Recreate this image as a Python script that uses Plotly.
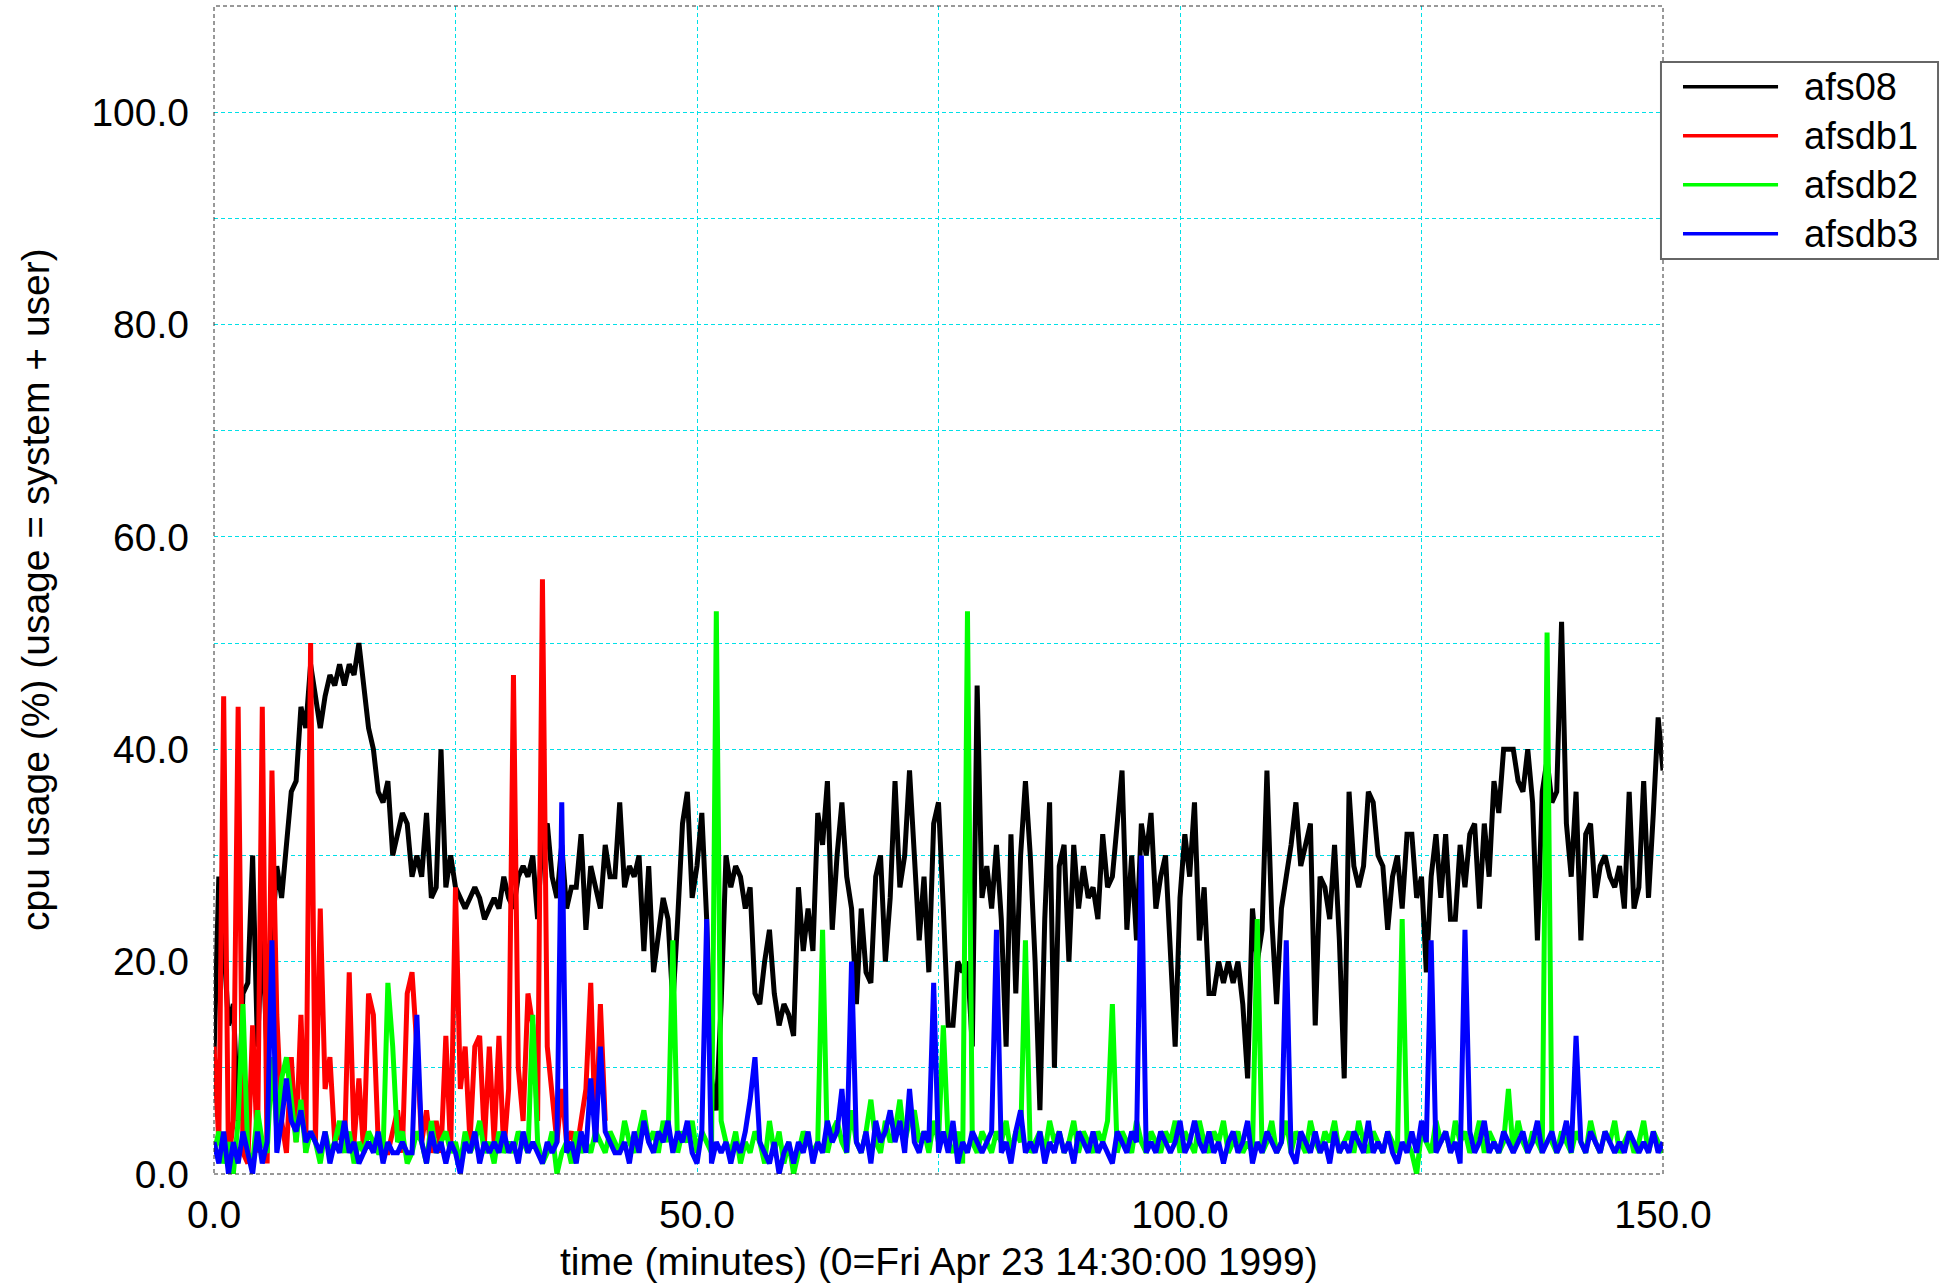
import plotly.graph_objects as go

# ---------------- data (cpu usage %, one sample every 0.5 min) ----------------
SAMPLE_STEP_MIN = 0.5

SERIES_NAMES = ["afs08", "afsdb1", "afsdb2", "afsdb3"]

AFS08 = [
    11, 28, 22, 14, 16, 5, 17, 18, 30, 12, 23, 11, 22, 29, 26, 31, 36, 37, 44, 42,
    48, 45, 42, 45, 47, 46, 48, 46, 48, 47, 50, 46, 42, 40, 36, 35, 37, 30, 32, 34,
    33, 28, 30, 28, 34, 26, 27, 40, 27, 30, 27,
    26, 25, 26, 27, 26, 24, 25, 26, 25, 28, 26, 25, 28, 29, 28, 30, 24, 32, 33, 28,
    26, 31, 25, 27, 27, 32, 23, 29, 27, 25, 31, 28, 28, 35, 27, 29, 28, 30, 21, 29,
    19, 23, 26, 24, 16, 24, 33, 36, 26, 29, 34, 24,
    9, 6, 16, 30, 27, 29, 28, 25, 27, 17, 16, 20, 23, 17, 14, 16, 15, 13, 27, 21,
    25, 21, 34, 31, 37, 23, 30, 35, 28, 25, 16, 25, 19, 18, 28, 30, 20, 26, 37, 27,
    30, 38, 29, 22, 28, 19, 33, 35, 25, 14, 14, 20,
    19, 20, 12, 46, 26, 29, 25, 31, 24, 12, 32, 17, 30, 37, 30, 20, 6, 24, 35, 10,
    29, 31, 20, 31, 25, 29, 26, 27, 24, 32, 27, 28, 33, 38, 23, 30, 22, 33, 30, 34,
    25, 28, 30, 20, 12, 26, 32, 28, 35, 22, 27, 17,
    17, 20, 18, 20, 18, 20, 16, 9, 25, 20, 23, 38, 24, 16, 25, 28, 31, 35, 29, 31,
    33, 14, 28, 27, 24, 31, 22, 9, 36, 29, 27, 29, 36, 35, 30, 29, 23, 28, 30, 25,
    32, 32, 26, 28, 19, 28, 32, 26, 32, 24, 24, 31,
    27, 32, 33, 25, 33, 28, 37, 34, 40, 40, 40, 37, 36, 40, 35, 22, 36, 39, 35, 36,
    52, 33, 28, 36, 22, 32, 33, 26, 29, 30, 28, 27, 29, 25, 36, 25, 27, 37, 26, 34,
    43, 38,
]

AFSDB1 = [
    12, 3, 45, 1, 5, 44, 2, 1, 14, 2, 44, 1, 38, 15, 5, 2, 11, 3, 15, 2,
    50, 3, 25, 8, 11, 3, 4, 2, 19, 3, 9, 2, 17, 15, 3, 2, 2, 4, 6, 2,
    17, 19, 12, 3, 6, 2, 5, 2, 13, 2, 27, 8, 12, 3, 12, 13, 3, 12, 3, 13,
    2, 8, 47, 10, 5, 17, 14, 5, 56, 12, 8, 3, 8, 3, 4, 2, 5, 8, 18, 3,
    16, 5,
]

AFSDB2 = [
    2, 4, 1, 3, 0, 5, 16, 2, 1, 6, 3, 2, 11, 4, 9, 11, 7, 3, 7, 2, 4,
    3, 1, 4, 2, 3, 5, 2, 4, 1, 3, 2, 4, 3, 2, 2, 18, 12, 3, 4, 1,
    2, 4, 3, 1, 5, 2, 3, 4, 2, 3, 1, 4, 2, 3, 5, 2, 3, 1, 4, 2,
    3, 2, 4, 3, 2, 15, 3, 1, 2, 4, 0, 2, 3, 1, 4, 2, 3, 2, 4, 3,
    2, 4, 3, 2, 5, 3, 2, 4, 6, 3, 4, 2, 5, 3, 22, 2, 4, 3, 5, 2,
    4, 3, 2, 53, 5, 3, 2, 4, 1, 3, 2, 4, 3, 1, 5, 2, 4, 1, 3, 0,
    2, 4, 3, 2, 3, 23, 2, 4, 5, 3, 2, 6, 3, 2, 4, 7, 3, 2, 5, 3,
    4, 7, 3, 5, 6, 3, 4, 2, 5, 3, 14, 3, 2, 4, 1, 53, 3, 2, 4, 3,
    2, 4, 3, 5, 2, 4, 3, 22, 2, 3, 4, 2, 5, 3, 4, 2, 3, 5, 2, 4,
    3, 2, 4, 3, 5, 16, 2, 4, 3, 2, 5, 3, 2, 4, 3, 2, 4, 3, 5, 2,
    4, 3, 2, 5, 3, 2, 4, 3, 5, 2, 3, 4, 2, 3, 2, 24, 2, 3, 5, 2,
    3, 5, 2, 4, 3, 2, 5, 3, 2, 4, 3, 5, 2, 3, 4, 2, 5, 3, 2, 4,
    3, 2, 4, 3, 2, 24, 3, 2, 0, 4, 3, 2, 5, 3, 4, 2, 5, 3, 4, 2,
    3, 5, 2, 4, 3, 2, 3, 8, 2, 5, 3, 2, 4, 3, 2, 51, 3, 2, 4, 3,
    2, 4, 3, 2, 5, 3, 2, 4, 3, 5, 2, 3, 4, 2, 3, 5, 2, 4, 3, 2,
]

AFSDB3 = [
    3, 1, 4, 0, 3, 1, 4, 2, 0, 4, 1, 3, 22, 2, 5, 9, 5, 4, 6, 3, 4,
    3, 2, 4, 1, 3, 2, 5, 2, 3, 1, 2, 3, 2, 4, 1, 3, 2, 2, 3, 2,
    2, 15, 3, 1, 4, 2, 3, 1, 3, 2, 0, 3, 2, 4, 1, 3, 2, 3, 2, 4,
    2, 3, 1, 4, 2, 3, 2, 1, 3, 2, 3, 35, 2, 3, 1, 4, 2, 9, 3, 12,
    4, 3, 2, 2, 3, 1, 4, 2, 5, 3, 2, 4, 3, 5, 2, 4, 3, 5, 2, 1,
    4, 24, 1, 3, 2, 3, 1, 3, 2, 4, 7, 11, 3, 2, 1, 3, 0, 2, 3, 1,
    3, 2, 4, 1, 3, 2, 5, 3, 4, 8, 2, 20, 3, 2, 4, 1, 5, 3, 4, 6,
    3, 5, 2, 8, 3, 2, 4, 3, 18, 2, 4, 2, 5, 1, 3, 2, 4, 3, 2, 3,
    4, 23, 2, 3, 1, 4, 6, 2, 3, 2, 4, 1, 3, 2, 4, 2, 3, 1, 4, 3,
    2, 4, 2, 3, 2, 1, 4, 3, 2, 4, 3, 30, 2, 3, 2, 4, 3, 2, 3, 5,
    2, 3, 5, 3, 2, 4, 2, 3, 1, 3, 4, 2, 3, 5, 1, 3, 2, 4, 3, 2,
    3, 22, 2, 1, 4, 3, 2, 4, 2, 3, 1, 4, 2, 3, 2, 4, 3, 2, 5, 2,
    3, 2, 4, 2, 1, 3, 2, 4, 2, 5, 3, 22, 2, 3, 4, 2, 3, 1, 23, 4,
    2, 3, 5, 2, 3, 2, 4, 3, 2, 3, 4, 2, 3, 5, 2, 3, 4, 2, 3, 5,
    2, 13, 3, 2, 4, 3, 2, 4, 3, 2, 3, 2, 4, 3, 2, 3, 2, 4, 2, 3,
]

X_TICKS = [0, 50, 100, 150]
X_TICK_LABELS = ["0.0", "50.0", "100.0", "150.0"]
X_MINOR_GRID = [25, 75, 125]
Y_TICKS = [0, 20, 40, 60, 80, 100]
Y_TICK_LABELS = ["0.0", "20.0", "40.0", "60.0", "80.0", "100.0"]
Y_MINOR_GRID = [10, 30, 50, 70, 90, 110]

X_TITLE = "time (minutes) (0=Fri Apr 23 14:30:00 1999)"
Y_TITLE = "cpu usage (%) (usage = system + user)"

COLORS = ["#000000", "#ff0000", "#00ff00", "#0000ff"]

# ---------------- figure ----------------
FONT = "Liberation Sans, Arial, Helvetica, sans-serif"
GRID_COLOR = "#00e0e8"
GRID_DASH = "4px,3px"

fig = go.Figure()
all_series = [AFS08, AFSDB1, AFSDB2, AFSDB3]
for name, vals, col in zip(SERIES_NAMES, all_series, COLORS):
    t = [i * SAMPLE_STEP_MIN for i in range(len(vals))]
    fig.add_trace(go.Scatter(x=t, y=vals, mode="lines", name=name,
                             line=dict(color=col, width=5),
                             showlegend=False))

fig.update_layout(
    width=1950, height=1283,
    margin=dict(l=214, r=287, t=6, b=109),
    paper_bgcolor="white", plot_bgcolor="white",
    font=dict(family=FONT, size=39, color="black"),
    xaxis=dict(
        range=[0, 150], tickvals=X_TICKS, ticktext=X_TICK_LABELS,
        showgrid=True, gridcolor=GRID_COLOR, griddash=GRID_DASH, gridwidth=1,
        minor=dict(tickvals=X_MINOR_GRID, showgrid=True, gridcolor=GRID_COLOR,
                   griddash=GRID_DASH, gridwidth=1),
        zeroline=False, showline=False, ticks="", ticklabelstandoff=14,
        tickfont=dict(size=39),
    ),
    yaxis=dict(
        range=[0, 110], tickvals=Y_TICKS, ticktext=Y_TICK_LABELS,
        showgrid=True, gridcolor=GRID_COLOR, griddash=GRID_DASH, gridwidth=1,
        minor=dict(tickvals=Y_MINOR_GRID, showgrid=True, gridcolor=GRID_COLOR,
                   griddash=GRID_DASH, gridwidth=1),
        zeroline=False, showline=False, ticks="", ticklabelstandoff=24,
        tickfont=dict(size=39),
    ),
)

# plot frame (dashed dark border)
fig.add_shape(type="rect", xref="paper", yref="paper", x0=0, y0=0, x1=1, y1=1,
              line=dict(color="#333333", width=1, dash="4px,3px"), layer="above")

# axis titles
fig.add_annotation(text=X_TITLE, xref="paper", yref="paper", x=0.5, y=-0.0745,
                   xanchor="center", yanchor="middle", showarrow=False,
                   font=dict(size=39))
fig.add_annotation(text=Y_TITLE, xref="paper", yref="paper", x=-0.1235, y=0.5,
                   xanchor="center", yanchor="middle", showarrow=False,
                   textangle=-90, font=dict(size=39))

# legend box drawn by hand (to match long line samples)
LEG_X0, LEG_X1 = 0.9986, 1.1898
LEG_Y0, LEG_Y1 = 0.7834, 0.9521
fig.add_shape(type="rect", xref="paper", yref="paper", x0=LEG_X0, x1=LEG_X1,
              y0=LEG_Y0, y1=LEG_Y1, line=dict(color="#666666", width=2),
              fillcolor="white", layer="above")
row_y = [0.9309, 0.8890, 0.8470, 0.8050]
for name, col, yy in zip(SERIES_NAMES, COLORS, row_y):
    fig.add_shape(type="line", xref="paper", yref="paper", x0=1.0138, x1=1.0794,
                  y0=yy, y1=yy, line=dict(color=col, width=3.5), layer="above")
    fig.add_annotation(text=name, xref="paper", yref="paper", x=1.0959, y=yy,
                       xanchor="left", yanchor="middle", showarrow=False,
                       font=dict(size=38))

fig.write_html("out.html", config={"displayModeBar": False})
